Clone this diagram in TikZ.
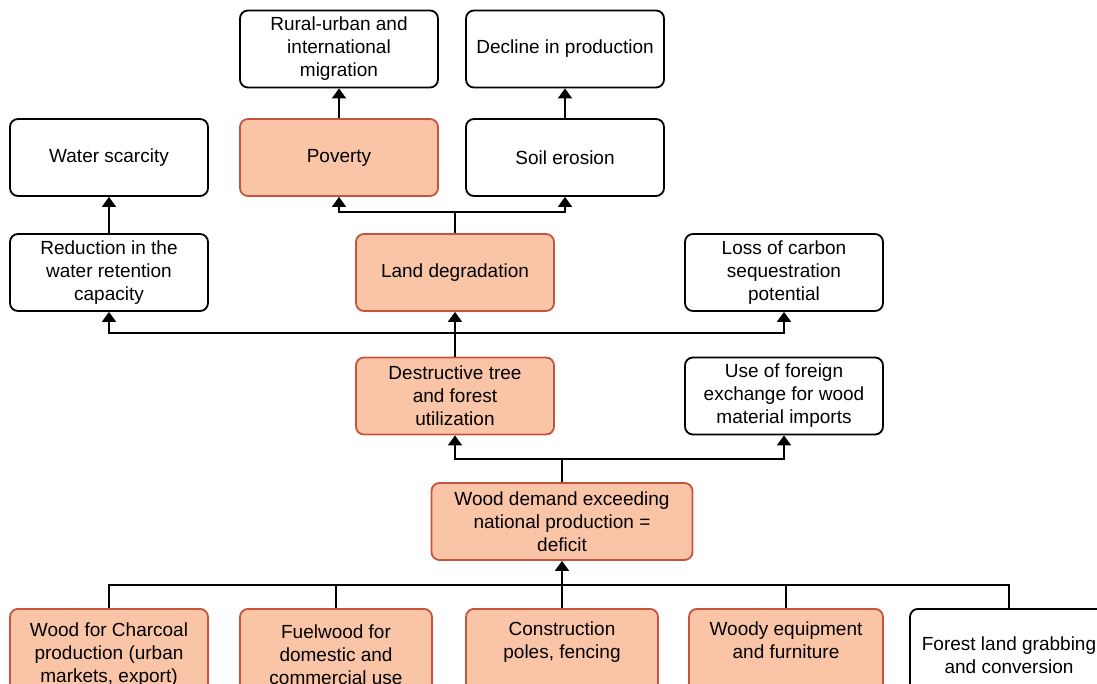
\documentclass[tikz,border=0pt]{standalone}
\usepackage{fontspec}
\setmainfont{Liberation Sans}
\usetikzlibrary{arrows.meta}
\definecolor{peach}{RGB}{250,196,166}
\definecolor{rust}{RGB}{196,84,60}

\begin{document}
\begin{tikzpicture}[x=0.5pt, y=-0.5pt, line width=0.9pt, >={Triangle[width=7pt,length=5pt]},
    box/.style = {draw, rounded corners=4pt, minimum width=99pt, minimum height=38.5pt, align=center, inner sep=2pt, font=\fontsize{9.5}{11.5}\selectfont},
    hot/.style = {box, fill=peach, draw=rust}]
    \clip (0,0) rectangle (1097,684);
    % nodi in alto: effetti
    \node[box] (migr)  at (339,49)    {Rural-urban and\\international\\migration};
    \node[box] (decl)  at (565,49)    {Decline in production};
    \node[box] (water) at (109,157.5) {Water scarcity};
    \node[hot] (pov)   at (339,157.5) {Poverty};
    \node[box] (soil)  at (565,157.5) {Soil erosion};
    \node[box] (reduc) at (109,272.5) {Reduction in the\\water retention\\capacity};
    \node[hot] (land)  at (455,272.5) {Land degradation};
    \node[box] (carb)  at (784,272.5) {Loss of carbon\\sequestration\\potential};
    \node[hot] (destr) at (455,396)   {Destructive tree\\and forest\\utilization};
    \node[box] (forex) at (784,396)   {Use of foreign\\exchange for wood\\material imports};
    % problema centrale
    \node[hot, minimum width=130.5pt] (wd) at (562,521.5) {Wood demand exceeding\\national production =\\deficit};
    % cause in basso
    \node[hot, anchor=north, minimum height=46pt] (charc) at (109,608) {Wood for Charcoal\\production (urban\\markets, export)};
    \node[hot, anchor=north, minimum height=46pt, minimum width=96pt] (fuel) at (336,608) {Fuelwood  for\\domestic and\\commercial use};
    \node[hot, anchor=north, minimum height=46pt, minimum width=96pt] (constr) at (562,608) {Construction\\poles, fencing\\\strut};
    \node[hot, anchor=north, minimum height=46pt, minimum width=97pt] (woody) at (786,608) {Woody equipment\\and furniture\\\strut};
    \node[box, anchor=north, minimum height=46pt] (forest) at (1009,608) {Forest land grabbing\\and conversion};
    % frecce
    \draw (charc.north) -- ++(0,-23) -| (forest.north);
    \draw (fuel.north) -- ++(0,-23);
    \draw (woody.north) -- ++(0,-23);
    \draw[->] (constr) -- (wd);
    \draw[->] (wd.north) -- ++(0,-23) -| (destr.south);
    \draw[->] (wd.north) -- ++(0,-23) -| (forex.south);
    \draw[->] (destr.north) -- ++(0,-24) -| (reduc.south);
    \draw[->] (destr.north) -- ++(0,-24) -| (carb.south);
    \draw[->] (destr) -- (land);
    \draw[->] (land.north) -- ++(0,-21) -| (pov.south);
    \draw[->] (land.north) -- ++(0,-21) -| (soil.south);
    \draw[->] (reduc) -- (water);
    \draw[->] (pov) -- (migr);
    \draw[->] (soil) -- (decl);
\end{tikzpicture}
\end{document}
